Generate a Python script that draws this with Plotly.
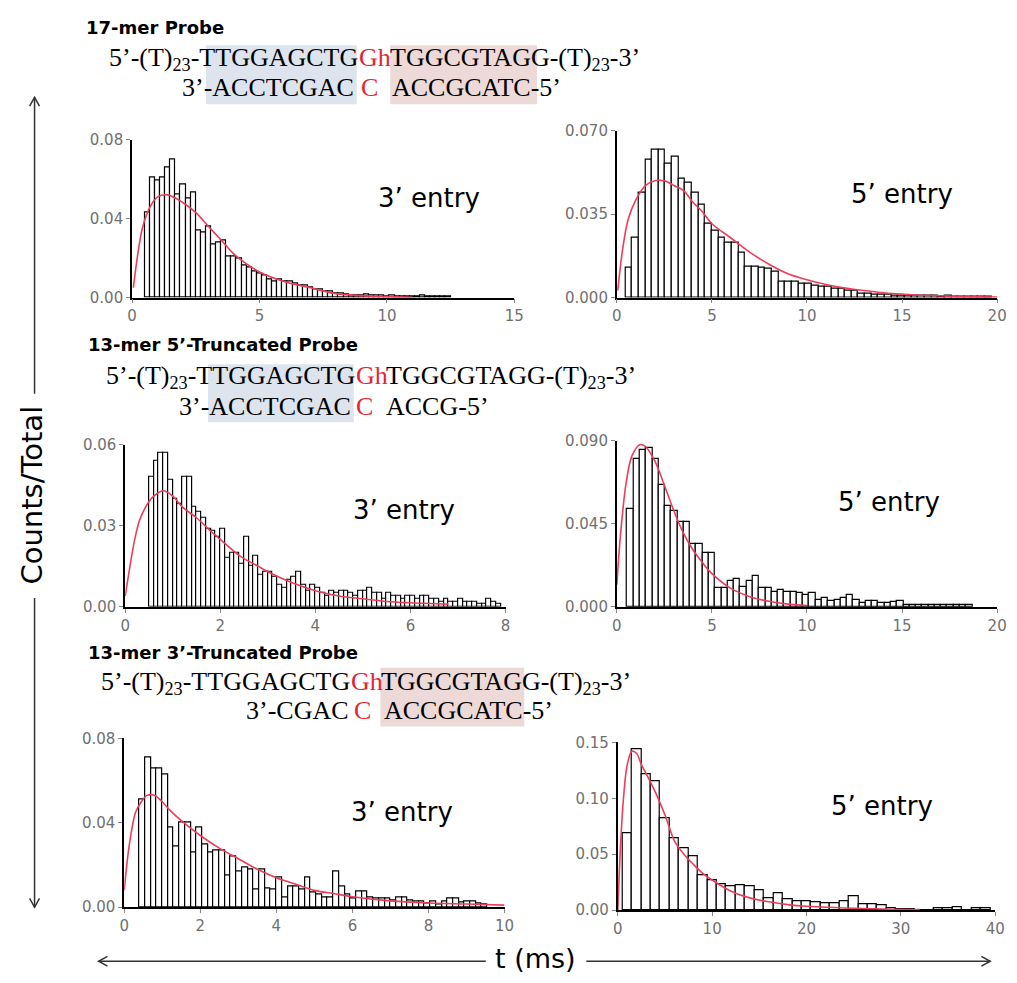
import plotly.graph_objects as go

# ---------------- DATA ----------------
# Panel 1: 17-mer probe, 3' entry
p1_bin_start, p1_bin_width = 0.5, 0.2
p1_counts = [0.043, 0.061, 0.059, 0.061, 0.066, 0.070, 0.052, 0.057, 0.050, 0.053,
             0.034, 0.033, 0.036, 0.027, 0.028, 0.029, 0.021, 0.021, 0.020, 0.016,
             0.015, 0.013, 0.012, 0.011, 0.009, 0.008, 0.009, 0.008, 0.008, 0.007,
             0.006, 0.006, 0.005, 0.004, 0.004, 0.003, 0.003, 0.002, 0.002, 0.0015,
             0.001, 0.0012, 0.0008, 0.0015, 0.0012, 0.001, 0.0008, 0.0006, 0.0008, 0.0005,
             0.0006, 0.0004, 0.0005, 0.0003, 0.0008, 0.0004, 0.0003, 0.0006, 0.0004, 0.0003]
p1_fit_t = [0.05, 0.2, 0.4, 0.6, 0.8, 1.0, 1.4, 2.0, 2.5, 3.0, 3.5, 4.0, 4.5, 5.0, 6.0, 7.0, 8.0, 9.0, 10.0, 11.0]
p1_fit_y = [0.005, 0.020, 0.035, 0.043, 0.048, 0.051, 0.052, 0.048, 0.043, 0.036, 0.029, 0.022, 0.017, 0.013,
            0.008, 0.005, 0.002, 0.001, 0.0005, 0.0002]
p1_xticks = [0, 5, 10, 15]
p1_yticks = [0.0, 0.04, 0.08]
p1_yticklabels = ["0.00", "0.04", "0.08"]

# Panel 2: 17-mer probe, 5' entry
p2_bin_start, p2_bin_width = 0.45, 0.35
p2_counts = [0.0127, 0.025, 0.044, 0.058, 0.062, 0.062, 0.056, 0.059, 0.050, 0.048,
             0.044, 0.039, 0.031, 0.028, 0.025, 0.023, 0.023, 0.019, 0.013, 0.013,
             0.0127, 0.012, 0.011, 0.0065, 0.0065, 0.0065, 0.006, 0.006, 0.005, 0.0045,
             0.0045, 0.0037, 0.0037, 0.003, 0.003, 0.0016, 0.0016, 0.0014, 0.0012, 0.0012,
             0.001, 0.001, 0.0008, 0.0008, 0.0007, 0.0009, 0.0006, 0.0005, 0.0006, 0.0004,
             0.0004, 0.0005, 0.0003, 0.0003, 0.0004]
p2_fit_t = [0.05, 0.3, 0.6, 1.0, 1.5, 2.0, 2.5, 3.0, 3.5, 4.0, 4.5, 5.0, 6.0, 7.0, 8.0, 9.0, 10.0, 11.0,
            12.0, 13.0, 14.0, 15.0, 16.0, 18.0, 20.0]
p2_fit_y = [0.003, 0.020, 0.033, 0.041, 0.047, 0.049, 0.049, 0.047, 0.045, 0.040, 0.036, 0.031, 0.025,
            0.019, 0.014, 0.010, 0.0075, 0.0055, 0.004, 0.003, 0.002, 0.0015, 0.001, 0.0005, 0.0002]
p2_xticks = [0, 5, 10, 15, 20]
p2_yticks = [0.0, 0.035, 0.070]
p2_yticklabels = ["0.000", "0.035", "0.070"]

# Panel 3: 13-mer 5'-truncated probe, 3' entry
p3_bin_start, p3_bin_width = 0.5, 0.1
p3_counts = [0.048, 0.054, 0.057, 0.057, 0.047, 0.040, 0.038, 0.048, 0.048, 0.037,
             0.035, 0.033, 0.029, 0.028, 0.026, 0.029, 0.018, 0.020, 0.020, 0.016,
             0.026, 0.015, 0.019, 0.012, 0.013, 0.013, 0.011, 0.008, 0.007, 0.010,
             0.011, 0.013, 0.008, 0.006, 0.008, 0.007, 0.005, 0.004, 0.006, 0.005,
             0.006, 0.006, 0.005, 0.004, 0.006, 0.006, 0.007, 0.005, 0.005, 0.003,
             0.005, 0.004, 0.004, 0.003, 0.004, 0.004, 0.003, 0.004, 0.004, 0.003,
             0.003, 0.002, 0.003, 0.002, 0.002, 0.003, 0.002, 0.002, 0.002, 0.001,
             0.001, 0.003, 0.002, 0.001]
p3_fit_t = [0.0, 0.1, 0.2, 0.3, 0.4, 0.5, 0.6, 0.8, 1.0, 1.2, 1.5, 1.8, 2.0, 2.4, 2.8, 3.0, 3.5, 4.0,
            4.5, 5.0, 5.5, 6.0, 6.8]
p3_fit_y = [0.004, 0.015, 0.025, 0.032, 0.036, 0.039, 0.041, 0.043, 0.041, 0.037, 0.033, 0.028, 0.025,
            0.019, 0.015, 0.013, 0.009, 0.006, 0.004, 0.003, 0.002, 0.0015, 0.001]
p3_xticks = [0, 2, 4, 6, 8]
p3_yticks = [0.0, 0.03, 0.06]
p3_yticklabels = ["0.00", "0.03", "0.06"]

# Panel 4: 13-mer 5'-truncated probe, 5' entry
p4_bin_start, p4_bin_width = 0.55, 0.33
p4_counts = [0.053, 0.080, 0.085, 0.086, 0.080, 0.066, 0.055, 0.052, 0.046, 0.046,
             0.034, 0.034, 0.029, 0.029, 0.010, 0.010, 0.014, 0.015, 0.011, 0.014,
             0.017, 0.010, 0.010, 0.008, 0.009, 0.008, 0.008, 0.0075, 0.0065, 0.0075,
             0.004, 0.005, 0.003, 0.0035, 0.005, 0.0065, 0.004, 0.002, 0.003, 0.003,
             0.002, 0.002, 0.0025, 0.003, 0.0012, 0.0012, 0.001, 0.0012, 0.0012, 0.0012,
             0.0012, 0.001, 0.001, 0.001, 0.0008]
p4_fit_t = [0.0, 0.2, 0.5, 0.8, 1.2, 1.5, 2.0, 2.5, 3.0, 3.5, 4.0, 4.5, 5.0, 6.0, 7.0, 8.0, 9.0, 10.0]
p4_fit_y = [0.012, 0.040, 0.068, 0.082, 0.088, 0.087, 0.079, 0.066, 0.052, 0.040, 0.031, 0.024, 0.018,
            0.010, 0.0055, 0.003, 0.0015, 0.0007]
p4_xticks = [0, 5, 10, 15, 20]
p4_yticks = [0.0, 0.045, 0.090]
p4_yticklabels = ["0.000", "0.045", "0.090"]

# Panel 5: 13-mer 3'-truncated probe, 3' entry
p5_bin_start, p5_bin_width = 0.4, 0.15
p5_counts = [0.051, 0.071, 0.066, 0.066, 0.063, 0.038, 0.029, 0.040, 0.040, 0.026,
             0.038, 0.030, 0.026, 0.027, 0.027, 0.015, 0.024, 0.017, 0.019, 0.018,
             0.0085, 0.018, 0.009, 0.0085, 0.014, 0.0046, 0.010, 0.010, 0.0085, 0.014,
             0.007, 0.006, 0.0046, 0.0046, 0.017, 0.010, 0.006, 0.004, 0.0077, 0.0077,
             0.0046, 0.0042, 0.0042, 0.004, 0.0034, 0.0045, 0.0045, 0.0034, 0.0028, 0.0028,
             0.002, 0.0026, 0.0015, 0.0026, 0.004, 0.0042, 0.0023, 0.0026, 0.0026, 0.002,
             0.0015]
p5_fit_t = [0.0, 0.1, 0.2, 0.3, 0.45, 0.6, 0.8, 1.0, 1.2, 1.5, 2.0, 2.5, 3.0, 3.5, 4.0, 4.5, 5.0, 5.5,
            6.0, 7.0, 8.0, 9.0, 10.0]
p5_fit_y = [0.008, 0.025, 0.037, 0.045, 0.050, 0.053, 0.053, 0.050, 0.046, 0.041, 0.034, 0.028, 0.023,
            0.018, 0.014, 0.011, 0.008, 0.0065, 0.005, 0.003, 0.002, 0.0015, 0.001]
p5_xticks = [0, 2, 4, 6, 8, 10]
p5_yticks = [0.0, 0.04, 0.08]
p5_yticklabels = ["0.00", "0.04", "0.08"]

# Panel 6: 13-mer 3'-truncated probe, 5' entry
p6_bin_start, p6_bin_width = 0.5, 1.0
p6_counts = [0.069, 0.144, 0.121, 0.115, 0.082, 0.064, 0.055, 0.048, 0.031, 0.027,
             0.023, 0.021, 0.022, 0.021, 0.018, 0.011, 0.015, 0.0097, 0.008, 0.008,
             0.007, 0.006, 0.006, 0.008, 0.0125, 0.005, 0.005, 0.004, 0.0015, 0.001,
             0.001, 0.0, 0.0, 0.002, 0.002, 0.003, 0.0, 0.002, 0.002]
p6_fit_t = [0.0, 0.3, 0.6, 1.0, 1.5, 2.0, 2.5, 3.0, 4.0, 5.0, 6.0, 7.0, 8.0, 9.0, 10.0, 12.0, 14.0,
            16.0, 18.0, 20.0, 24.0, 28.0, 32.0]
p6_fit_y = [0.0, 0.060, 0.100, 0.130, 0.142, 0.140, 0.130, 0.122, 0.105, 0.085, 0.062, 0.050, 0.041,
            0.033, 0.027, 0.017, 0.011, 0.0075, 0.005, 0.0035, 0.002, 0.001, 0.0005]
p6_xticks = [0, 10, 20, 30, 40]
p6_yticks = [0.0, 0.05, 0.10, 0.15]
p6_yticklabels = ["0.00", "0.05", "0.10", "0.15"]

entry_labels = ["3’ entry", "5’ entry", "3’ entry", "5’ entry", "3’ entry", "5’ entry"]
probe_titles = ["17-mer Probe", "13-mer 5’-Truncated Probe", "13-mer 3’-Truncated Probe"]
x_title = "t (ms)"
y_title = "Counts/Total"

# ---------------- LAYOUT ----------------
W, H = 1017, 983
RED = "#e8232f"
FIT = "#ee3d5a"
BLUE_BG = "#dde4ee"
PINK_BG = "#eddad8"


def px_x(v):
    return v / W


def px_y(v):
    return 1 - v / H


panels = [
    dict(start=p1_bin_start, width=p1_bin_width, counts=p1_counts, ft=p1_fit_t, fy=p1_fit_y,
         xt=p1_xticks, yt=p1_yticks, ytl=p1_yticklabels, box=(129, 517, 133, 294), lab=(430, 193)),
    dict(start=p2_bin_start, width=p2_bin_width, counts=p2_counts, ft=p2_fit_t, fy=p2_fit_y,
         xt=p2_xticks, yt=p2_yticks, ytl=p2_yticklabels, box=(621, 1007, 124, 294), lab=(910, 188)),
    dict(start=p3_bin_start, width=p3_bin_width, counts=p3_counts, ft=p3_fit_t, fy=p3_fit_y,
         xt=p3_xticks, yt=p3_yticks, ytl=p3_yticklabels, box=(122, 508, 444, 609), lab=(405, 510)),
    dict(start=p4_bin_start, width=p4_bin_width, counts=p4_counts, ft=p4_fit_t, fy=p4_fit_y,
         xt=p4_xticks, yt=p4_yticks, ytl=p4_yticklabels, box=(621, 1007, 440, 609), lab=(897, 502)),
    dict(start=p5_bin_start, width=p5_bin_width, counts=p5_counts, ft=p5_fit_t, fy=p5_fit_y,
         xt=p5_xticks, yt=p5_yticks, ytl=p5_yticklabels, box=(121, 507, 743, 915), lab=(403, 818)),
    dict(start=p6_bin_start, width=p6_bin_width, counts=p6_counts, ft=p6_fit_t, fy=p6_fit_y,
         xt=p6_xticks, yt=p6_yticks, ytl=p6_yticklabels, box=(622, 1005, 747, 918), lab=(890, 812)),
]

fig = go.Figure()
layout = dict(width=W, height=H, margin=dict(l=0, r=0, t=0, b=0),
              plot_bgcolor="white", paper_bgcolor="white", showlegend=False,
              bargap=0)
annotations = []
shapes = []

tickfont = dict(family="DejaVu Sans", size=15, color="#707070")

for i, p in enumerate(panels):
    n = i + 1
    xa = "x" if n == 1 else f"x{n}"
    ya = "y" if n == 1 else f"y{n}"
    centers = [p["start"] + p["width"] * (k + 0.5) for k in range(len(p["counts"]))]
    fig.add_trace(go.Bar(x=centers, y=p["counts"], width=p["width"], xaxis=xa, yaxis=ya,
                         marker=dict(color="white", line=dict(color="black", width=1.2))))
    fig.add_trace(go.Scatter(x=p["ft"], y=p["fy"], mode="lines", xaxis=xa, yaxis=ya,
                             line=dict(color=FIT, width=1.6, shape="spline")))
    x0, x1, y0, y1 = p["box"]
    layout["xaxis" if n == 1 else f"xaxis{n}"] = dict(
        domain=[px_x(x0), px_x(x1)], anchor=ya, range=[0, p["xt"][-1]],
        tickvals=p["xt"], showline=True, linecolor="black", linewidth=1.5,
        ticks="outside", ticklen=4, tickcolor="#888", showgrid=False, zeroline=False,
        tickfont=tickfont)
    layout["yaxis" if n == 1 else f"yaxis{n}"] = dict(
        domain=[px_y(y1), px_y(y0)], anchor=xa, range=[0, p["yt"][-1]],
        tickvals=p["yt"], ticktext=p["ytl"], showline=True, linecolor="black", linewidth=1.8,
        ticks="outside", ticklen=4, tickcolor="#888", showgrid=False, zeroline=False,
        tickfont=tickfont)
    lx, ly = p["lab"]
    annotations.append(dict(x=px_x(lx), y=px_y(ly), xref="paper", yref="paper", showarrow=False,
                            text=entry_labels[i], xanchor="center", yanchor="middle",
                            font=dict(family="DejaVu Sans", size=26, color="black")))

# ---- probe sequence blocks ----
SEQ_SIZE = 26


def seq(text, x, cy, anchor="left", red=False):
    # top-anchored so that segments with and without subscripts share a baseline
    annotations.append(dict(x=px_x(x), y=px_y(cy - 17), xref="paper", yref="paper", showarrow=False,
                            text=text, xanchor=anchor, yanchor="top", borderpad=0,
                            font=dict(family="Liberation Serif", size=SEQ_SIZE,
                                      color=RED if red else "black")))


def title(text, lx, cy):
    annotations.append(dict(x=px_x(lx), y=px_y(cy), xref="paper", yref="paper", showarrow=False,
                            text=f"<b>{text}</b>", xanchor="left", yanchor="middle",
                            font=dict(family="DejaVu Sans", size=18, color="black")))


def rect(x0, x1, y0, y1, color):
    shapes.append(dict(type="rect", xref="paper", yref="paper", x0=px_x(x0), x1=px_x(x1),
                       y0=px_y(y1), y1=px_y(y0), fillcolor=color, line=dict(width=0), layer="below"))


prefix = "5’-(T)<sub>23</sub>-"
suffix = "-(T)<sub>23</sub>-3’"

# Section 1
rect(204, 357, 37, 97, BLUE_BG)
rect(391, 540, 37, 97, PINK_BG)
title(probe_titles[0], 80, 19)
seq(prefix + "TTGGAGCTG", 359, 51, "right")
seq("Gh", 358, 51, "left", True)
seq("TGGCGTAGG" + suffix, 390, 51, "left")
seq("3’-ACCTCGAC", 355, 81, "right")
seq("C", 370, 81, "center", True)
seq("ACCGCATC-5’", 392, 81, "left")

# Section 2
rect(206, 354, 362, 421, BLUE_BG)
title(probe_titles[1], 82, 342)
seq(prefix + "TTGGAGCTG", 356, 375, "right")
seq("Gh", 355, 375, "left", True)
seq("TGGCGTAGG" + suffix, 386, 375, "left")
seq("3’-ACCTCGAC", 352, 406, "right")
seq("C", 365, 406, "center", True)
seq("ACCG-5’", 386, 406, "left")

# Section 3
rect(381, 527, 671, 731, PINK_BG)
title(probe_titles[2], 82, 655)
seq(prefix + "TTGGAGCTG", 351, 686, "right")
seq("Gh", 350, 686, "left", True)
seq("TGGCGTAGG" + suffix, 381, 686, "left")
seq("3’-CGAC", 350, 716, "right")
seq("C", 363, 716, "center", True)
seq("ACCGCATC-5’", 384, 716, "left")

# ---- axis titles with double arrows ----
annotations.append(dict(x=px_x(27), y=px_y(495), xref="paper", yref="paper", showarrow=False,
                        text=y_title, textangle=-90, xanchor="center", yanchor="middle",
                        font=dict(family="DejaVu Sans", size=29, color="black")))
annotations.append(dict(x=px_x(538), y=px_y(967), xref="paper", yref="paper", showarrow=False,
                        text=x_title, xanchor="center", yanchor="middle",
                        font=dict(family="DejaVu Sans", size=27, color="black")))

ARROW = "#333333"


def line(x0, y0, x1, y1):
    shapes.append(dict(type="line", xref="paper", yref="paper", x0=px_x(x0), y0=px_y(y0),
                       x1=px_x(x1), y1=px_y(y1), line=dict(color=ARROW, width=1.5)))


def chevron(pts):
    d = "M " + " L ".join(f"{px_x(a):.5f},{px_y(b):.5f}" for a, b in pts)
    shapes.append(dict(type="path", xref="paper", yref="paper", path=d,
                       line=dict(color=ARROW, width=1.5)))


# vertical arrow
line(30, 90, 30, 392); line(30, 600, 30, 915)
chevron([(25, 99), (30, 90), (35, 99)])
chevron([(25, 906), (30, 915), (35, 906)])
# horizontal arrow
line(95, 970, 488, 970); line(590, 970, 1000, 970)
chevron([(104, 965), (95, 970), (104, 975)])
chevron([(991, 965), (1000, 970), (991, 975)])

layout["annotations"] = annotations
layout["shapes"] = shapes
fig.update_layout(**layout)
fig.write_html("out.html")
